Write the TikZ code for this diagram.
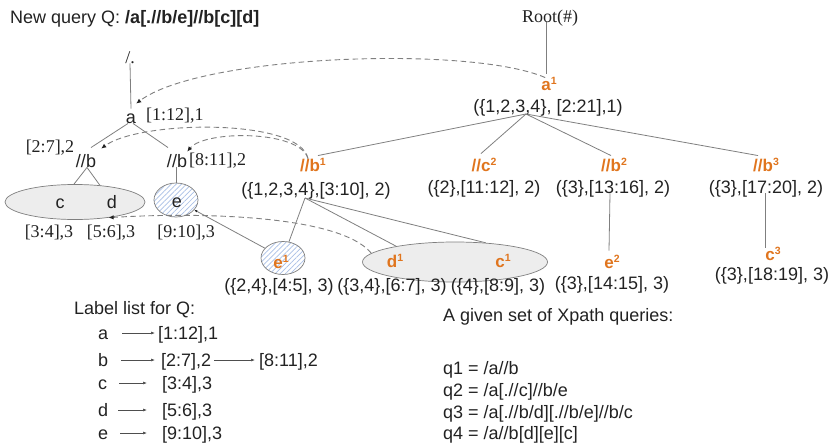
\documentclass[tikz,border=0pt]{standalone}
\usepackage{fontspec}
\setmainfont{Liberation Sans}
\newfontfamily\timesfont{Liberation Serif}
\usetikzlibrary{shapes.geometric,arrows.meta,patterns.meta}
\definecolor{linegray}{HTML}{7F7F7F}
\definecolor{hitorange}{HTML}{E0751E}
\definecolor{hatchblue}{HTML}{A9BFE6}
\definecolor{inkdark}{HTML}{222222}
\pgfdeclarelayer{bg}
\pgfsetlayers{bg,main}
\newcommand{\hsup}[1]{\raisebox{6pt}{\fontsize{10.5}{10.5}\selectfont #1}}

\begin{document}
\begin{tikzpicture}[x=1pt,y=-1pt,
  sans/.style={font=\fontsize{18}{20}\selectfont, text=inkdark, inner sep=0pt,
               text height=12.5pt, text depth=0pt},
  serif/.style={sans, font=\timesfont\fontsize{18}{20}\selectfont},
  hit/.style={font=\bfseries\fontsize{17}{20}\selectfont, text=hitorange, inner sep=0pt,
              text height=12.5pt, text depth=0pt},
  link/.style={draw=linegray, line width=0.8pt},
  jump/.style={draw=linegray, dash pattern=on 5.5pt off 3.5pt, line width=0.9pt,
               -{Latex[length=5pt,width=4.5pt,color=inkdark]}},
  listarrow/.style={draw=inkdark!80, line width=0.6pt,
               -{Latex[length=4pt,width=3pt]}},
  grayblob/.style={ellipse, draw=linegray, line width=0.7pt, inner sep=0pt,
               preaction={fill=gray!11},
               pattern={Dots[distance=2pt,radius=0.35pt]}, pattern color=gray!40},
  blueblob/.style={ellipse, draw=linegray, line width=0.7pt, inner sep=0pt,
               preaction={fill=white},
               pattern={Lines[angle=45,distance=3.6pt,line width=0.7pt]},
               pattern color=hatchblue},
]
\useasboundingbox (0,0) rectangle (837,447);

% ---------- heading ----------
\node[sans, anchor=west] (title) at (10,17) {New query Q: \textbf{/a[.//b/e]//b[c][d]}};

% ---------- query tree Q ----------
\node[serif] (slash) at (130,57) {/.};
\node[sans] (qa) at (131,117) {a};
\node[serif, anchor=west] (qaL) at (146,114) {[1:12],1};
\node[sans] (qb1) at (86,161) {//b};
\node[serif] (qb1L) at (50,146) {[2:7],2};
\node[sans] (qb2) at (177,161) {//b};
\node[serif, anchor=west] (qb2L) at (189,159) {[8:11],2};

\node[grayblob, minimum width=140pt, minimum height=35pt] (cdEll) at (75,202) {};
\node[blueblob, minimum width=44pt, minimum height=34pt] (qeEll) at (176,200) {};
\node[sans] (qc) at (60,202) {c};
\node[sans] (qd) at (112,202) {d};
\node[sans] (qe) at (177,201) {e};
\node[serif] (qcL) at (49,231) {[3:4],3};
\node[serif] (qdL) at (111,231) {[5:6],3};
\node[serif] (qeL) at (186,231) {[9:10],3};

% ---------- data tree ----------
\node[serif] (root) at (550,16) {Root(\#)};
\node[hit] (a1) at (549,84) {a\hsup{1}};
\node[sans] (a1L) at (548,106) {(\{1,2,3,4\}, [2:21],1)};
\coordinate (a1hub) at (526,114);

\node[hit] (b1) at (313,165) {//b\hsup{1}};
\node[sans] (b1L) at (316,189) {(\{1,2,3,4\},[3:10], 2)};
\coordinate (b1hub) at (305,198);
\node[hit] (c2) at (484,165) {//c\hsup{2}};
\node[sans] (c2L) at (484,187) {(\{2\},[11:12], 2)};
\node[hit] (b2) at (614,165) {//b\hsup{2}};
\node[sans] (b2L) at (613,187) {(\{3\},[13:16], 2)};
\node[hit] (b3) at (766,165) {//b\hsup{3}};
\node[sans] (b3L) at (766,187) {(\{3\},[17:20], 2)};

\node[blueblob, minimum width=44pt, minimum height=33pt] (e1Ell) at (283,258) {};
\node[grayblob, minimum width=185pt, minimum height=40pt] (dcEll) at (455,262) {};
\node[hit] (e1) at (281,262) {e\hsup{1}};
\node[hit] (d1) at (395,261) {d\hsup{1}};
\node[hit] (c1) at (503,261) {c\hsup{1}};
\node[sans] (e1L) at (279,285) {(\{2,4\},[4:5], 3)};
\node[sans] (d1L) at (392,285) {(\{3,4\},[6:7], 3)};
\node[sans] (c1L) at (498,285) {(\{4\},[8:9], 3)};

\node[hit] (e2) at (612,262) {e\hsup{2}};
\node[sans] (e2L) at (612,283) {(\{3\},[14:15], 3)};
\node[hit] (c3) at (773,254) {c\hsup{3}};
\node[sans] (c3L) at (772,274) {(\{3\},[18:19], 3)};

% ---------- tree edges ----------
\begin{pgfonlayer}{bg}
  \draw[link] (slash.south) -- ([yshift=2pt]qa.north);
  \draw[link] ([xshift=-3pt]qa.south) -- ([xshift=5pt,yshift=7pt]qb1.north);
  \draw[link] ([xshift=2pt]qa.south) -- ([xshift=-9pt,yshift=7pt]qb2.north);
  \draw[link] ([xshift=1pt]qb1.south) -- (qc);
  \draw[link] ([xshift=1pt]qb1.south) -- (qd);
  \draw[link] ([xshift=-1pt]qb2.south) -- (qeEll);

  \draw[link] ([xshift=-4pt]root.south) -- ([xshift=-3pt,yshift=4pt]a1.north);
  \draw[link] (a1hub) -- ([xshift=5pt,yshift=3pt]b1.north);
  \draw[link] (a1hub) -- ([xshift=-3pt,yshift=5pt]c2.north);
  \draw[link] (a1hub) -- ([xshift=-3pt,yshift=3pt]b2.north);
  \draw[link] (a1hub) -- ([xshift=-8pt,yshift=3pt]b3.north);
  \draw[link] (b1hub) -- (e1Ell);
  \draw[link] (b1hub) -- (dcEll.165);
  \draw[link] (b1hub) -- (dcEll.32);
  \draw[link] ([xshift=-3pt]b2L.south) -- ([xshift=-3pt,yshift=5pt]e2.north);
  \draw[link] ([xshift=-1pt]b3L.south) -- ([xshift=-1pt]b3L.south |- c3.north);
  \draw[link, -{Latex[length=3pt,width=2.5pt,color=inkdark]}] (e1Ell) -- (qeEll);
\end{pgfonlayer}

% ---------- match pointers ----------
\draw[jump] ([xshift=4pt]a1.north west) .. controls (470,45) and (200,55) .. ([yshift=7pt]qa.north east);
\draw[jump] ([xshift=8pt]b1.north west) .. controls (300,118) and (140,120) .. ([xshift=5pt,yshift=6pt]qb1.north east);
\draw[jump] ([xshift=8pt]b1.north west) .. controls (300,130) and (205,130) .. ([yshift=3pt]qb2.north east);
\draw[jump] (dcEll.174) .. controls (340,215) and (200,212) .. (cdEll.-25);

% ---------- label list ----------
\node[sans, anchor=west] (listhead) at (74,308) {Label list for Q:};
\node[sans, anchor=west] (la) at (98,333) {a};
\node[sans, anchor=west] (lb) at (98,360) {b};
\node[sans, anchor=west] (lc) at (98,383) {c};
\node[sans, anchor=west] (ld) at (98,410) {d};
\node[sans, anchor=west] (le) at (98,433) {e};
\node[sans, anchor=west] (la1) at (158,333) {[1:12],1};
\node[sans, anchor=west] (lb1) at (161,360) {[2:7],2};
\node[sans, anchor=west] (lb2) at (259,360) {[8:11],2};
\node[sans, anchor=west] (lc1) at (162,383) {[3:4],3};
\node[sans, anchor=west] (ld1) at (162,410) {[5:6],3};
\node[sans, anchor=west] (le1) at (162,433) {[9:10],3};
\draw[listarrow] ([xshift=14pt]la.east) -- ([xshift=-3pt]la1.west);
\draw[listarrow] ([xshift=13pt]lb.east) -- ([xshift=-6pt]lb1.west);
\draw[listarrow] ([xshift=3pt]lb1.east) -- ([xshift=-4pt]lb2.west);
\draw[listarrow] ([xshift=12pt]lc.east) -- ([xshift=-15pt]lc1.west);
\draw[listarrow] ([xshift=10pt]ld.east) -- ([xshift=-15pt]ld1.west);
\draw[listarrow] ([xshift=12pt]le.east) -- ([xshift=-15pt]le1.west);

% ---------- query set ----------
\node[sans, anchor=west] (qshead) at (443,315) {A given set of Xpath queries:};
\node[sans, anchor=west] (q1) at (443,368) {q1 = /a//b};
\node[sans, anchor=west] (q2) at (443,390) {q2 = /a[.//c]//b/e};
\node[sans, anchor=west] (q3) at (443,412) {q3 = /a[.//b/d][.//b/e]//b/c};
\node[sans, anchor=west] (q4) at (443,433) {q4 = /a//b[d][e][c]};
\end{tikzpicture}
\end{document}
